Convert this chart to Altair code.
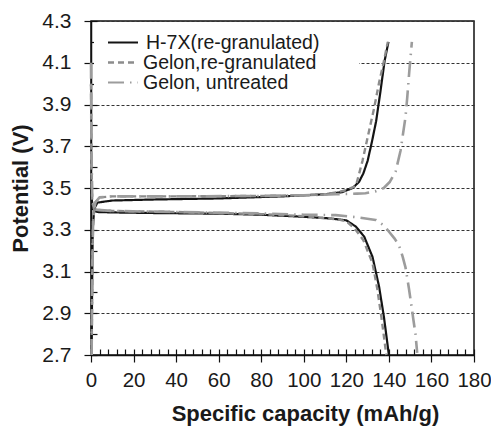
import altair as alt
import pandas as pd

series_names = ["H-7X(re-granulated)", "Gelon,re-granulated", "Gelon, untreated"]
series_colors = ["#141414", "#8c8c8c", "#9c9c9c"]
series_dashes = [[1, 0], [6, 4], [16, 6, 1.5, 6]]
series_widths = [2.2, 2.6, 2.2]

# H-7X (re-granulated)
h7x_charge_x = [0.3, 0.5, 0.8, 1.5, 3, 10, 30, 60, 90, 110, 118, 123, 126, 128, 130, 132, 134, 136, 138, 139.8]
h7x_charge_v = [2.7, 3.0, 3.3, 3.40, 3.43, 3.44, 3.445, 3.45, 3.46, 3.47, 3.48, 3.50, 3.53, 3.57, 3.63, 3.72, 3.82, 3.96, 4.11, 4.20]
h7x_dis_x = [0, 0.3, 0.8, 1.5, 3, 10, 30, 60, 80, 100, 110, 116, 120, 124.5, 128.4, 132.3, 135.4, 137.7, 140]
h7x_dis_v = [3.5, 3.45, 3.41, 3.39, 3.385, 3.383, 3.38, 3.377, 3.372, 3.362, 3.356, 3.35, 3.345, 3.315, 3.267, 3.17, 3.027, 2.88, 2.7]

# Gelon, re-granulated
gr_charge_x = [0.3, 0.6, 1, 2, 4, 10, 40, 80, 100, 110, 116, 120, 124.5, 127.6, 130.6, 133, 135.3, 137.5, 139.5]
gr_charge_v = [2.7, 3.1, 3.35, 3.43, 3.455, 3.46, 3.46, 3.462, 3.465, 3.47, 3.48, 3.49, 3.51, 3.63, 3.77, 3.88, 4.0, 4.1, 4.2]
gr_dis_x = [0, 0.2, 0.6, 1.5, 3, 10, 40, 80, 100, 110, 116, 120, 124, 128, 132.3, 134.5, 136.5, 138.8]
gr_dis_v = [4.0, 3.6, 3.43, 3.40, 3.395, 3.39, 3.385, 3.375, 3.365, 3.355, 3.35, 3.34, 3.305, 3.25, 3.14, 3.02, 2.88, 2.7]

# Gelon, untreated
gu_charge_x = [0.3, 0.6, 1, 2, 4, 10, 40, 80, 100, 115, 125, 129, 134, 137.6, 140.5, 143.2, 145.5, 147.8, 148.6, 149.6, 150.8]
gu_charge_v = [2.7, 3.1, 3.35, 3.43, 3.455, 3.46, 3.46, 3.462, 3.465, 3.47, 3.473, 3.475, 3.485, 3.50, 3.53, 3.58, 3.68, 3.84, 3.93, 4.06, 4.2]
gu_dis_x = [0, 0.2, 0.6, 1.5, 3, 10, 40, 80, 100, 115, 125, 133.8, 137, 139.3, 142.5, 144.7, 146.5, 147.8, 149.4, 150.4, 151.5, 152.5, 153.3]
gu_dis_v = [4.1, 3.7, 3.45, 3.40, 3.395, 3.39, 3.385, 3.378, 3.372, 3.37, 3.36, 3.347, 3.325, 3.30, 3.26, 3.227, 3.17, 3.12, 3.02, 2.95, 2.87, 2.80, 2.71]

x_major = list(range(0, 181, 20))
x_minor = list(range(0, 181, 4))
y_major = [2.7, 2.9, 3.1, 3.3, 3.5, 3.7, 3.9, 4.1, 4.3]
y_minor = [round(2.7 + 0.1 * k, 1) for k in range(17)]

rows = []
for name, branch, xs, vs in [
    (series_names[0], "charge", h7x_charge_x, h7x_charge_v),
    (series_names[0], "discharge", h7x_dis_x, h7x_dis_v),
    (series_names[1], "charge", gr_charge_x, gr_charge_v),
    (series_names[1], "discharge", gr_dis_x, gr_dis_v),
    (series_names[2], "charge", gu_charge_x, gu_charge_v),
    (series_names[2], "discharge", gu_dis_x, gu_dis_v),
]:
    for i, (x, v) in enumerate(zip(xs, vs)):
        rows.append({"series": name, "branch": name + " " + branch, "i": i, "cap": x, "v": v})
df = pd.DataFrame(rows)

FONT = "Liberation Sans"
xscale = alt.Scale(domain=[0, 180], nice=False, zero=False)
yscale = alt.Scale(domain=[2.7, 4.3], nice=False, zero=False)

one = alt.Data(values=[{}])

bg = alt.Chart(one).mark_rect(color="white").encode(
    x=alt.value(3), x2=alt.value(268), y=alt.value(6), y2=alt.value(72)
)

lines = alt.Chart(df).mark_line(strokeCap="butt", strokeJoin="round").encode(
    x=alt.X("cap:Q", scale=xscale, axis=alt.Axis(
        orient="bottom", values=x_major, tickSize=7, labelPadding=8, grid=False,
        labelOverlap=False, labelFlush=False, labelFontSize=20.5,
        title="Specific capacity (mAh/g)", titlePadding=13, titleX=214,
    )),
    y=alt.Y("v:Q", scale=yscale, axis=alt.Axis(
        orient="left", values=y_major, format=".1f", tickSize=7, labelPadding=13,
        labelOverlap=False, labelFlush=False,
        grid=True, gridDash=[3, 2], gridColor="#333333", gridWidth=1,
        title="Potential (V)", titlePadding=9,
    )),
    color=alt.Color("series:N", scale=alt.Scale(domain=series_names, range=series_colors), legend=None),
    strokeDash=alt.StrokeDash("series:N", scale=alt.Scale(domain=series_names, range=series_dashes), legend=None),
    strokeWidth=alt.StrokeWidth("series:N", scale=alt.Scale(domain=series_names, range=series_widths), legend=None),
    detail="branch:N",
    order="i:Q",
)

inner = alt.Chart(df).mark_point(opacity=0).encode(
    x=alt.X("cap:Q", scale=xscale, axis=alt.Axis(
        orient="bottom", values=x_minor, tickSize=6, offset=-6, labels=False,
        domain=False, grid=False, title=None,
    )),
    y=alt.Y("v:Q", scale=yscale, axis=alt.Axis(
        orient="left", values=y_minor, tickSize=6, offset=-6, labels=False,
        domain=False, grid=False, title=None,
    )),
)

# legend (drawn inside the plot, top-left)
legend_rows_y = [21.5, 41.5, 61.5]
legend_text_x = [55, 52, 52]
legend_layers = []
for k in range(3):
    legend_layers.append(
        alt.Chart(one).mark_rule(
            color=series_colors[k], strokeDash=series_dashes[k],
            strokeWidth=series_widths[k], strokeCap="butt",
        ).encode(x=alt.value(17), x2=alt.value(47), y=alt.value(legend_rows_y[k]))
    )
    legend_layers.append(
        alt.Chart(one).mark_text(
            align="left", baseline="middle", font=FONT, fontSize=19.5, color="#1a1a1a",
        ).encode(x=alt.value(legend_text_x[k]), y=alt.value(legend_rows_y[k]),
                 text=alt.value(series_names[k]))
    )

chart = alt.layer(bg, lines, inner, *legend_layers).resolve_axis(
    x="independent", y="independent"
).properties(
    width=383, height=334,
    autosize=alt.AutoSizeParams(type="none"),
    padding={"left": 83, "top": 13, "right": 17, "bottom": 78},
).configure_view(
    stroke="#111111", strokeWidth=1.5
).configure_axis(
    labelFont=FONT, labelFontSize=21, labelColor="#1a1a1a",
    titleFont=FONT, titleFontSize=22, titleFontWeight="bold", titleColor="#1a1a1a",
    domainColor="#111111", domainWidth=1.5, tickColor="#111111", tickWidth=1.2,
)

chart.save("out.html", embed_options={"renderer": "svg", "actions": False})
